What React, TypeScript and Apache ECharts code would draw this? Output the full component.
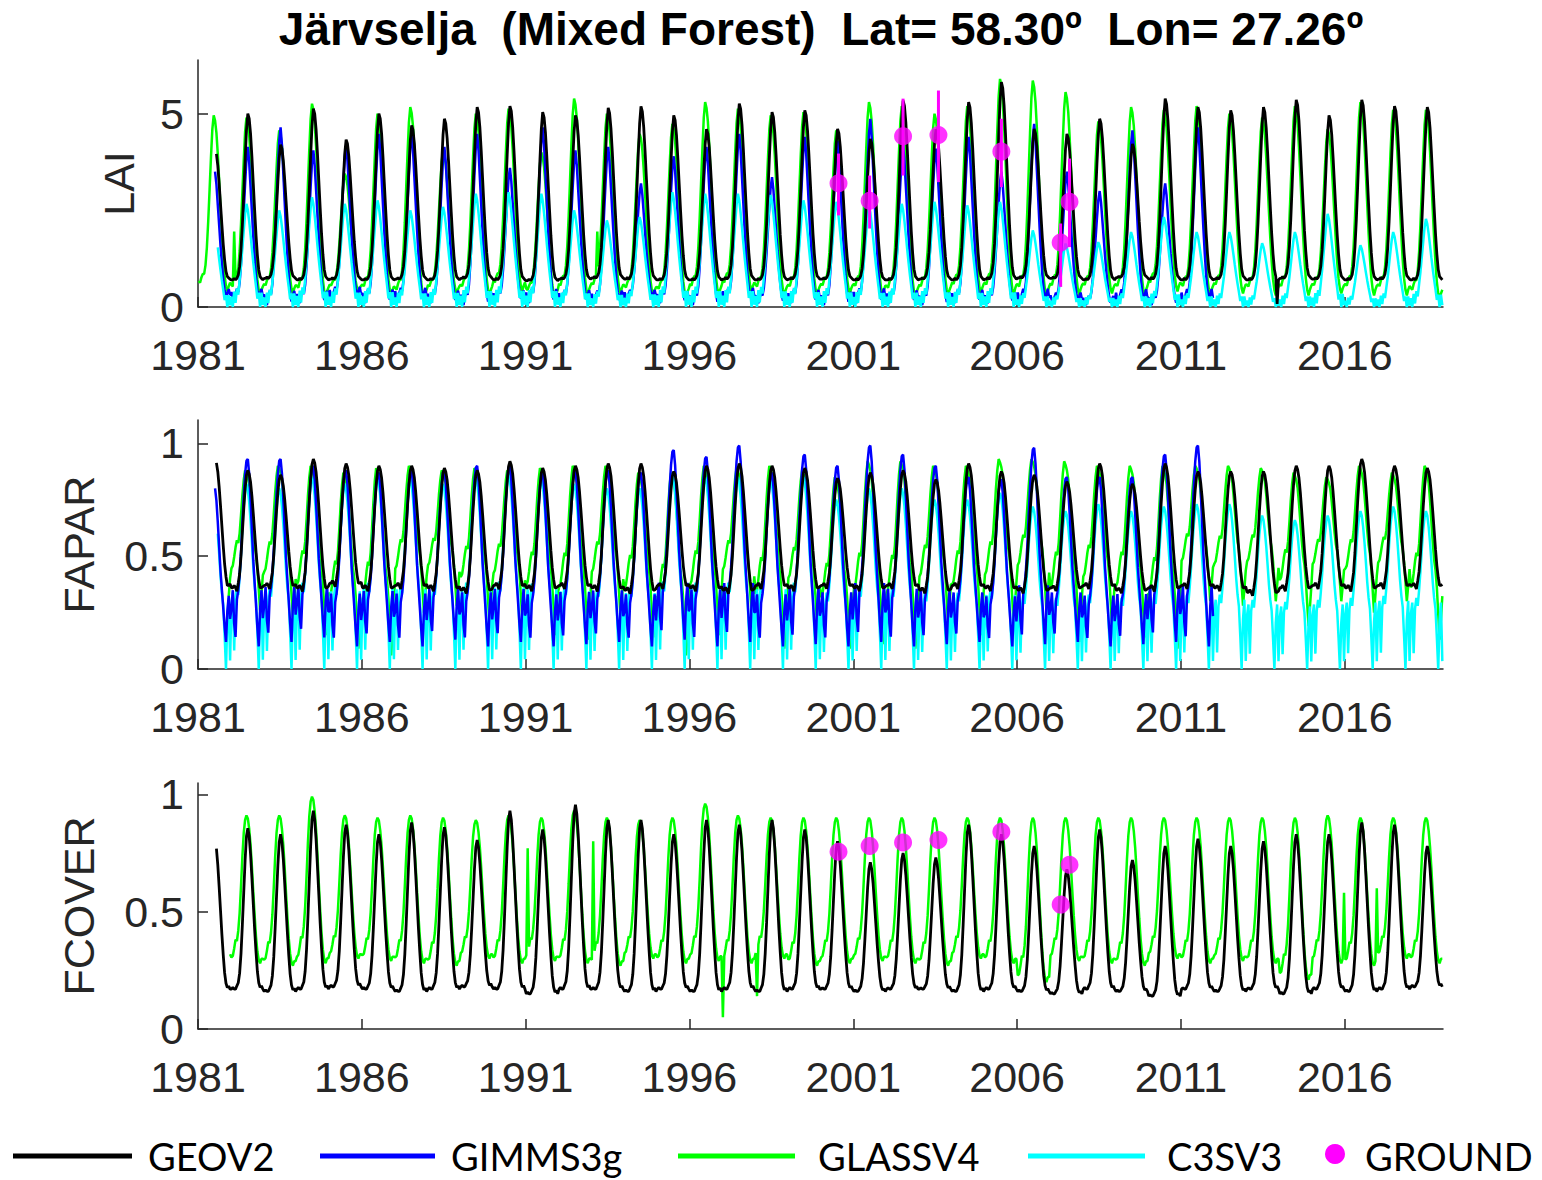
import React, { useEffect, useRef } from "react";
import * as echarts from "echarts";

// ---------- axes / ticks ----------
const YEARS = [
  1981, 1982, 1983, 1984, 1985, 1986, 1987, 1988, 1989, 1990, 1991, 1992, 1993,
  1994, 1995, 1996, 1997, 1998, 1999, 2000, 2001, 2002, 2003, 2004, 2005, 2006,
  2007, 2008, 2009, 2010, 2011, 2012, 2013, 2014, 2015, 2016, 2017, 2018,
];
const X_TICKS = [1981, 1986, 1991, 1996, 2001, 2006, 2011, 2016];
const LAI_TICKS = [0, 5];
const FRAC_TICKS = [0, 0.5, 1];

const TITLE = "Järvselja  (Mixed Forest)  Lat= 58.30º  Lon= 27.26º";
const LEGEND_NAMES = ["GEOV2", "GIMMS3g", "GLASSV4", "C3SV3", "GROUND"];
const COLORS = { GEOV2: "#000000", GIMMS3g: "#0000ff", GLASSV4: "#00ff00", C3SV3: "#00ffff", GROUND: "#ff00ff" };

// ---------- typical seasonal shapes (24 half-month steps, 0 = winter low, 1 = summer peak) ----------
const SHAPE_LAI_GEOV2 = [0, 0, 0.01, 0, 0.01, 0.03, 0.08, 0.18, 0.33, 0.52, 0.72, 0.9, 1.0, 0.97, 0.88, 0.74, 0.58, 0.42, 0.27, 0.15, 0.06, 0.02, 0.01, 0];
const SHAPE_LAI_GIMMS = [0.06, 0.02, 0, 0.05, 0.08, 0.06, 0.12, 0.24, 0.4, 0.58, 0.76, 0.92, 1.0, 0.9, 0.74, 0.58, 0.42, 0.28, 0.16, 0.07, 0.02, 0.05, 0.08, 0.03];
const SHAPE_LAI_GLASS = [0.06, 0.05, 0.08, 0.1, 0.1, 0.15, 0.25, 0.4, 0.58, 0.76, 0.92, 1.0, 0.97, 0.9, 0.78, 0.63, 0.47, 0.32, 0.19, 0.09, 0.03, 0, 0.03, 0.05];
const SHAPE_LAI_C3S = [0.1, 0, 0.15, 0.04, 0.18, 0.12, 0.26, 0.4, 0.57, 0.74, 0.9, 1.0, 0.94, 0.83, 0.7, 0.56, 0.43, 0.31, 0.2, 0.08, 0.14, 0, 0.14, 0.02];

const SHAPE_FAPAR_GEOV2 = [0, 0, 0.02, 0, -0.03, 0.04, 0.12, 0.27, 0.47, 0.67, 0.84, 0.96, 1.0, 0.97, 0.9, 0.78, 0.63, 0.47, 0.31, 0.17, 0.07, 0.0, 0, 0.01];
const SHAPE_FAPAR_GIMMS = [0.2, 0.3, 0.12, 0.05, 0.25, 0.3, 0.38, 0.5, 0.66, 0.8, 0.92, 0.99, 1.0, 0.92, 0.78, 0.62, 0.46, 0.34, 0.22, 0.1, 0.0, 0.2, 0.3, 0.15];
const SHAPE_FAPAR_GLASS = [0.3, 0.32, 0.38, 0.45, 0.5, 0.48, 0.55, 0.68, 0.82, 0.93, 1.0, 0.98, 0.95, 0.9, 0.8, 0.68, 0.56, 0.46, 0.4, 0.3, 0.15, 0.0, 0.12, 0.25];
const SHAPE_FAPAR_C3S = [0.35, 0.42, 0.1, 0.38, 0.45, 0.4, 0.5, 0.62, 0.76, 0.88, 0.96, 1.0, 0.97, 0.9, 0.8, 0.68, 0.55, 0.45, 0.38, 0.2, 0.0, 0.3, 0.42, 0.05];

const SHAPE_FCOVER_GEOV2 = [0, 0.01, 0, 0, 0.02, 0.04, 0.1, 0.22, 0.4, 0.6, 0.8, 0.95, 1.0, 0.95, 0.84, 0.69, 0.53, 0.37, 0.23, 0.11, 0.04, 0.01, 0.02, 0];
const SHAPE_FCOVER_GLASS = [0.04, 0.05, 0.1, 0.16, 0.15, 0.22, 0.34, 0.52, 0.72, 0.88, 0.97, 1.0, 0.98, 0.91, 0.8, 0.65, 0.48, 0.32, 0.18, 0.08, 0.02, 0, 0.03, 0.03];

// ---------- yearly summer peaks and winter lows (1981 ...) ----------
const LAI_GEOV2_PEAK = [4.06, 5.0, 4.2, 5.13, 4.33, 5.0, 4.7, 4.87, 5.17, 5.2, 5.04, 4.96, 5.15, 5.19, 4.96, 4.6, 5.26, 5.04, 5.09, 4.61, 4.35, 5.34, 4.6, 5.3, 5.82, 4.61, 4.48, 4.87, 4.22, 5.39, 5.17, 5.09, 5.17, 5.36, 4.96, 5.36, 5.2, 5.17];
const LAI_GEOV2_LOW = [0.72, 0.7, 0.74, 0.7, 0.72, 0.7, 0.72, 0.7, 0.74, 0.7, 0.68, 0.72, 0.75, 0.72, 0.7, 0.7, 0.72, 0.7, 0.72, 0.72, 0.7, 0.7, 0.72, 0.7, 0.72, 0.75, 0.74, 0.7, 0.76, 0.72, 0.7, 0.72, 0.7, 0.74, 0.72, 0.7, 0.72, 0.7];
const LAI_GIMMS_PEAK = [3.5, 4.14, 4.65, 4.05, 4.18, 4.48, 4.48, 4.14, 4.48, 3.6, 4.65, 4.05, 4.14, 3.2, 3.9, 4.14, 4.48, 3.36, 4.4, 4.3, 4.87, 4.2, 4.1, 4.4, 3.5, 4.74, 3.5, 3.0, 4.57, 3.2, 4.65];
const LAI_GIMMS_LOW = [0.2, 0.15, 0.05, 0.1, 0.2, 0.1, 0.15, 0.1, 0.05, 0.15, 0.1, 0.12, 0.1, 0.2, 0.1, 0.05, 0.15, 0.1, 0.1, 0.05, 0.1, 0.1, 0.05, 0.1, 0.1, 0.1, 0.1, 0.05, 0.1, 0.05, 0.1];
const LAI_GLASS_PEAK = [4.96, 4.9, 4.57, 5.26, 3.45, 5.0, 5.17, 4.05, 5.0, 5.13, 4.0, 5.39, 5.0, 4.48, 4.74, 5.3, 5.13, 4.96, 5.04, 4.57, 5.3, 5.2, 5.0, 5.2, 5.9, 5.86, 5.56, 4.8, 5.17, 5.1, 5.2, 5.0, 4.9, 5.2, 4.6, 5.3, 5.1, 5.1];
const LAI_GLASS_LOW = [0.4, 0.3, 0.35, 0.25, 0.4, 0.3, 0.2, 0.35, 0.3, 0.4, 0.25, 0.3, 0.35, 0.3, 0.25, 0.3, 0.4, 0.3, 0.3, 0.35, 0.3, 0.25, 0.3, 0.35, 0.3, 0.25, 0.3, 0.35, 0.3, 0.4, 0.3, 0.35, 0.3, 0.3, 0.35, 0.3, 0.3, 0.2];
const LAI_C3S_PEAK = [2.2, 2.67, 2.5, 2.84, 2.67, 2.76, 2.5, 2.59, 2.93, 2.97, 2.93, 2.5, 2.24, 2.33, 2.97, 2.93, 2.93, 2.9, 2.76, 2.72, 2.59, 2.67, 2.72, 2.63, 2.72, 1.98, 1.64, 1.68, 1.94, 2.33, 1.94, 1.94, 1.65, 1.94, 2.41, 1.6, 1.94, 2.28];
const LAI_C3S_LOW = 0;

const FAPAR_GEOV2_PEAK = [0.93, 0.88, 0.86, 0.93, 0.91, 0.9, 0.9, 0.89, 0.88, 0.92, 0.89, 0.9, 0.91, 0.91, 0.875, 0.9, 0.91, 0.9, 0.89, 0.845, 0.87, 0.88, 0.84, 0.91, 0.875, 0.86, 0.83, 0.91, 0.82, 0.91, 0.875, 0.875, 0.875, 0.9, 0.9, 0.93, 0.9, 0.89];
const FAPAR_GEOV2_LOW = [0.37, 0.36, 0.37, 0.36, 0.38, 0.36, 0.37, 0.36, 0.35, 0.37, 0.36, 0.37, 0.36, 0.35, 0.37, 0.36, 0.35, 0.37, 0.36, 0.37, 0.36, 0.37, 0.35, 0.37, 0.36, 0.35, 0.36, 0.37, 0.35, 0.36, 0.37, 0.36, 0.34, 0.36, 0.37, 0.36, 0.37, 0.37];
const FAPAR_GIMMS_PEAK = [0.8, 0.93, 0.93, 0.9, 0.88, 0.87, 0.88, 0.88, 0.9, 0.9, 0.87, 0.88, 0.88, 0.87, 0.97, 0.94, 0.99, 0.87, 0.95, 0.9, 0.99, 0.95, 0.9, 0.85, 0.84, 0.98, 0.85, 0.85, 0.85, 0.95, 0.99];
const FAPAR_GIMMS_LOW = [0.12, 0.1, 0.12, 0.14, 0.1, 0.12, 0.1, 0.13, 0.1, 0.12, 0.1, 0.11, 0.12, 0.1, 0.13, 0.1, 0.12, 0.1, 0.11, 0.1, 0.12, 0.1, 0.11, 0.12, 0.1, 0.11, 0.12, 0.1, 0.11, 0.12, 0.1];
const FAPAR_GLASS_PEAK = [0.85, 0.88, 0.9, 0.9, 0.87, 0.89, 0.9, 0.88, 0.89, 0.88, 0.89, 0.9, 0.9, 0.87, 0.87, 0.9, 0.89, 0.9, 0.88, 0.85, 0.92, 0.92, 0.9, 0.9, 0.93, 0.93, 0.92, 0.9, 0.9, 0.9, 0.9, 0.9, 0.89, 0.87, 0.85, 0.9, 0.87, 0.9];
const FAPAR_GLASS_LOW = [0.25, 0.26, 0.23, 0.15, 0.09, 0.06, 0.25, 0.28, 0.2, 0.23, 0.15, 0.13, 0.23, 0.14, 0.06, 0.15, 0.25, 0.09, 0.2, 0.09, 0.11, 0.09, 0.2, 0.15, 0.2, 0.26, 0.12, 0.2, 0.14, 0.09, 0.3, 0.28, 0.3, 0.19, 0.3, 0.25, 0.3, 0.13];
const FAPAR_C3S_PEAK = [0.75, 0.82, 0.8, 0.85, 0.82, 0.85, 0.84, 0.82, 0.85, 0.86, 0.84, 0.82, 0.8, 0.8, 0.86, 0.85, 0.85, 0.84, 0.85, 0.75, 0.8, 0.8, 0.75, 0.75, 0.78, 0.72, 0.7, 0.73, 0.7, 0.72, 0.73, 0.73, 0.68, 0.66, 0.68, 0.7, 0.72, 0.7];
const FAPAR_C3S_LOW = 0;

const FCOVER_GEOV2_PEAK = [0.8, 0.855, 0.83, 0.93, 0.87, 0.83, 0.88, 0.86, 0.805, 0.93, 0.85, 0.955, 0.89, 0.89, 0.83, 0.89, 0.87, 0.89, 0.85, 0.8, 0.71, 0.75, 0.73, 0.87, 0.83, 0.78, 0.68, 0.85, 0.72, 0.78, 0.81, 0.78, 0.8, 0.83, 0.83, 0.88, 0.87, 0.78];
const FCOVER_GEOV2_LOW = [0.17, 0.17, 0.16, 0.17, 0.18, 0.17, 0.16, 0.17, 0.18, 0.17, 0.15, 0.17, 0.17, 0.16, 0.17, 0.16, 0.17, 0.16, 0.17, 0.17, 0.16, 0.17, 0.17, 0.16, 0.17, 0.16, 0.15, 0.17, 0.16, 0.14, 0.17, 0.16, 0.17, 0.15, 0.17, 0.16, 0.17, 0.18];
const FCOVER_GLASS_PEAK = [0.9, 0.91, 0.91, 0.99, 0.91, 0.9, 0.91, 0.9, 0.89, 0.91, 0.9, 0.93, 0.9, 0.89, 0.9, 0.96, 0.91, 0.9, 0.9, 0.9, 0.9, 0.9, 0.9, 0.9, 0.9, 0.9, 0.9, 0.9, 0.9, 0.9, 0.9, 0.9, 0.9, 0.9, 0.91, 0.9, 0.9, 0.9];
const FCOVER_GLASS_LOW = [0.3, 0.28, 0.27, 0.28, 0.3, 0.29, 0.28, 0.27, 0.3, 0.28, 0.29, 0.28, 0.27, 0.3, 0.28, 0.29, 0.28, 0.3, 0.27, 0.28, 0.29, 0.28, 0.27, 0.3, 0.28, 0.2, 0.29, 0.28, 0.27, 0.3, 0.28, 0.29, 0.28, 0.21, 0.28, 0.27, 0.3, 0.28];

// isolated spikes seen in the picture: [time, value]
const LAI_GEOV2_SPIKES: [number, number][] = [[2013.93, 0.08]];
const LAI_GLASS_SPIKES: [number, number][] = [[1982.1, 1.95], [1993.2, 1.95]];
const FCOVER_GLASS_SPIKES: [number, number][] = [[1991.06, 0.77], [1993.05, 0.8], [1997.04, 0.05], [1998.05, 0.14], [2016.0, 0.58], [2017.0, 0.6]];

// record spans [first, last] in decimal years
const SPAN_GEOV2 = [1981.56, 2019];
const SPAN_GIMMS = [1981.5, 2012];
const SPAN_GLASS_LAI = [1981.0, 2019];
const SPAN_GLASS_FAPAR = [1981.9, 2019];
const SPAN_GLASS_FCOVER = [1981.95, 2019];
const SPAN_C3S = [1981.6, 2019];

// ---------- ground measurements ----------
const GROUND_TIME = [2000.55, 2001.5, 2002.52, 2003.6, 2005.52, 2007.33, 2007.6];
const GROUND_LAI = [3.2, 2.75, 4.42, 4.45, 4.02, 1.67, 2.72];
const GROUND_LAI_LOW = [2.37, 2.03, 3.4, 3.23, 3.1, 0.52, 1.55];
const GROUND_LAI_HIGH = [3.97, 3.4, 5.39, 5.6, 4.87, 2.16, 3.84];
const GROUND_FCOVER = [0.755, 0.78, 0.795, 0.805, 0.84, 0.53, 0.7];

type Pt = [number, number];

function buildCurve(
  peaks: number[],
  lows: number[] | number,
  shape: number[],
  span: number[],
  spikes: Pt[] = []
): Pt[] {
  const pts: Pt[] = [];
  const n = shape.length;
  peaks.forEach((peak, k) => {
    const year = YEARS[k];
    const low = Array.isArray(lows) ? lows[k] : lows;
    shape.forEach((f, i) => {
      const t = year + (i + 0.5) / n;
      if (t < span[0] || t > span[1]) return;
      pts.push([+t.toFixed(4), +Math.max(0, low + (peak - low) * f).toFixed(3)]);
    });
  });
  spikes.forEach(([st, sv]) => {
    let best = -1;
    let bd = Infinity;
    pts.forEach((p, j) => {
      const d = Math.abs(p[0] - st);
      if (d < bd) {
        bd = d;
        best = j;
      }
    });
    if (best >= 0) pts[best] = [pts[best][0], sv];
  });
  return pts;
}

const AXIS_COLOR = "#262626";
const TICK_FONT = "'Liberation Sans', Arial, Helvetica, sans-serif";
const LEGEND_FONT = "Lato, 'Noto Sans', sans-serif";

function xAxis(gridIndex: number) {
  return {
    gridIndex,
    type: "value",
    min: 1981,
    max: 2019,
    axisLine: { show: true, onZero: false, lineStyle: { color: AXIS_COLOR, width: 1.5 } },
    axisTick: { show: true, inside: true, length: 10, customValues: X_TICKS, lineStyle: { color: AXIS_COLOR, width: 1.5 } },
    axisLabel: {
      customValues: X_TICKS,
      fontSize: 43,
      fontFamily: TICK_FONT,
      color: AXIS_COLOR,
      margin: 26,
      formatter: (v: number) => String(Math.round(v)),
    },
    splitLine: { show: false },
  };
}

function yAxis(gridIndex: number, name: string, max: number, ticks: number[], nameGap: number) {
  return {
    gridIndex,
    type: "value",
    min: 0,
    max,
    name,
    nameLocation: "middle",
    nameRotate: 90,
    nameGap,
    nameTextStyle: { fontSize: 43, fontFamily: TICK_FONT, color: AXIS_COLOR },
    axisLine: { show: true, onZero: false, lineStyle: { color: AXIS_COLOR, width: 1.5 } },
    axisTick: { show: true, inside: true, length: 10, customValues: ticks, lineStyle: { color: AXIS_COLOR, width: 1.5 } },
    axisLabel: {
      customValues: ticks,
      fontSize: 43,
      fontFamily: TICK_FONT,
      color: AXIS_COLOR,
      margin: 14,
      formatter: (v: number) => String(v),
    },
    splitLine: { show: false },
  };
}

function lineSeries(name: string, idx: number, data: Pt[], width = 2.5) {
  return {
    name,
    type: "line",
    xAxisIndex: idx,
    yAxisIndex: idx,
    data,
    showSymbol: false,
    symbol: "none",
    lineStyle: { color: (COLORS as any)[name], width },
    silent: true,
  };
}

export default function App() {
  const ref = useRef<HTMLDivElement>(null);

  useEffect(() => {
    if (!ref.current) return;
    const chart = echarts.init(ref.current, undefined, { renderer: "svg" });

    const laiGround = GROUND_TIME.map((t, i) => [t, GROUND_LAI[i]]);
    const laiErr = GROUND_TIME.map((t, i) => [t, GROUND_LAI_LOW[i], GROUND_LAI_HIGH[i]]);
    const fcoverGround = GROUND_TIME.map((t, i) => [t, GROUND_FCOVER[i]]);

    const legendItems = [
      { name: LEGEND_NAMES[0], x1: 13, x2: 132, tx: 148 },
      { name: LEGEND_NAMES[1], x1: 320, x2: 435, tx: 451 },
      { name: LEGEND_NAMES[2], x1: 678, x2: 795, tx: 818 },
      { name: LEGEND_NAMES[3], x1: 1028, x2: 1145, tx: 1167 },
    ];
    const legendGraphics: any[] = [];
    legendItems.forEach((it) => {
      legendGraphics.push({
        type: "line",
        shape: { x1: it.x1, y1: 1156, x2: it.x2, y2: 1156 },
        style: { stroke: (COLORS as any)[it.name], lineWidth: 5 },
        silent: true,
      });
      legendGraphics.push({
        type: "text",
        x: it.tx,
        y: 1156,
        style: { text: it.name, fontSize: 38, fontFamily: LEGEND_FONT, fill: "#000", align: "left", verticalAlign: "middle" },
        silent: true,
      });
    });
    legendGraphics.push({
      type: "circle",
      shape: { cx: 1335, cy: 1154, r: 10 },
      style: { fill: COLORS.GROUND },
      silent: true,
    });
    legendGraphics.push({
      type: "text",
      x: 1365,
      y: 1156,
      style: { text: LEGEND_NAMES[4], fontSize: 38, fontFamily: LEGEND_FONT, fill: "#000", align: "left", verticalAlign: "middle" },
      silent: true,
    });

    const errRender = (params: any, api: any) => {
      const x = api.value(0);
      const a = api.coord([x, api.value(1)]);
      const b = api.coord([x, api.value(2)]);
      return {
        type: "line",
        shape: { x1: a[0], y1: a[1], x2: b[0], y2: b[1] },
        style: { stroke: COLORS.GROUND, lineWidth: 3 },
      };
    };

    const option: any = {
      animation: false,
      backgroundColor: "#ffffff",
      graphic: [
        {
          type: "text",
          x: 821,
          y: 29,
          style: {
            text: TITLE,
            fontSize: 46,
            fontWeight: "bold",
            fontFamily: TICK_FONT,
            fill: "#000",
            align: "center",
            verticalAlign: "middle",
          },
          silent: true,
        },
        ...legendGraphics,
      ],
      grid: [
        { left: 198, top: 60, width: 1245, height: 247, containLabel: false, outerBoundsMode: "none" },
        { left: 198, top: 420, width: 1245, height: 249, containLabel: false, outerBoundsMode: "none" },
        { left: 198, top: 783, width: 1245, height: 246, containLabel: false, outerBoundsMode: "none" },
      ],
      xAxis: [xAxis(0), xAxis(1), xAxis(2)],
      yAxis: [
        yAxis(0, "LAI", 6.39, LAI_TICKS, 58),
        yAxis(1, "FAPAR", 1.103, FRAC_TICKS, 98),
        yAxis(2, "FCOVER", 1.048, FRAC_TICKS, 98),
      ],
      series: [
        // LAI
        lineSeries("GLASSV4", 0, buildCurve(LAI_GLASS_PEAK, LAI_GLASS_LOW, SHAPE_LAI_GLASS, SPAN_GLASS_LAI, LAI_GLASS_SPIKES)),
        lineSeries("GIMMS3g", 0, buildCurve(LAI_GIMMS_PEAK, LAI_GIMMS_LOW, SHAPE_LAI_GIMMS, SPAN_GIMMS)),
        lineSeries("C3SV3", 0, buildCurve(LAI_C3S_PEAK, LAI_C3S_LOW, SHAPE_LAI_C3S, SPAN_C3S)),
        lineSeries("GEOV2", 0, buildCurve(LAI_GEOV2_PEAK, LAI_GEOV2_LOW, SHAPE_LAI_GEOV2, SPAN_GEOV2, LAI_GEOV2_SPIKES), 2.8),
        {
          name: "GROUND",
          type: "custom",
          xAxisIndex: 0,
          yAxisIndex: 0,
          data: laiErr,
          renderItem: errRender,
          silent: true,
          z: 5,
        },
        {
          name: "GROUND",
          type: "scatter",
          xAxisIndex: 0,
          yAxisIndex: 0,
          data: laiGround,
          symbol: "circle",
          symbolSize: 18,
          itemStyle: { color: COLORS.GROUND },
          silent: true,
          z: 6,
        },
        // FAPAR
        lineSeries("GLASSV4", 1, buildCurve(FAPAR_GLASS_PEAK, FAPAR_GLASS_LOW, SHAPE_FAPAR_GLASS, SPAN_GLASS_FAPAR)),
        lineSeries("C3SV3", 1, buildCurve(FAPAR_C3S_PEAK, FAPAR_C3S_LOW, SHAPE_FAPAR_C3S, SPAN_C3S)),
        lineSeries("GIMMS3g", 1, buildCurve(FAPAR_GIMMS_PEAK, FAPAR_GIMMS_LOW, SHAPE_FAPAR_GIMMS, SPAN_GIMMS)),
        lineSeries("GEOV2", 1, buildCurve(FAPAR_GEOV2_PEAK, FAPAR_GEOV2_LOW, SHAPE_FAPAR_GEOV2, SPAN_GEOV2), 2.8),
        // FCOVER
        lineSeries("GLASSV4", 2, buildCurve(FCOVER_GLASS_PEAK, FCOVER_GLASS_LOW, SHAPE_FCOVER_GLASS, SPAN_GLASS_FCOVER, FCOVER_GLASS_SPIKES)),
        lineSeries("GEOV2", 2, buildCurve(FCOVER_GEOV2_PEAK, FCOVER_GEOV2_LOW, SHAPE_FCOVER_GEOV2, SPAN_GEOV2), 2.8),
        {
          name: "GROUND",
          type: "scatter",
          xAxisIndex: 2,
          yAxisIndex: 2,
          data: fcoverGround,
          symbol: "circle",
          symbolSize: 18,
          itemStyle: { color: COLORS.GROUND },
          silent: true,
          z: 6,
        },
      ],
    };

    chart.setOption(option);
    return () => chart.dispose();
  }, []);

  return (
    <div
      ref={ref}
      style={{ position: "absolute", left: 0, top: 0, width: 1542, height: 1180, background: "#ffffff" }}
    />
  );
}
